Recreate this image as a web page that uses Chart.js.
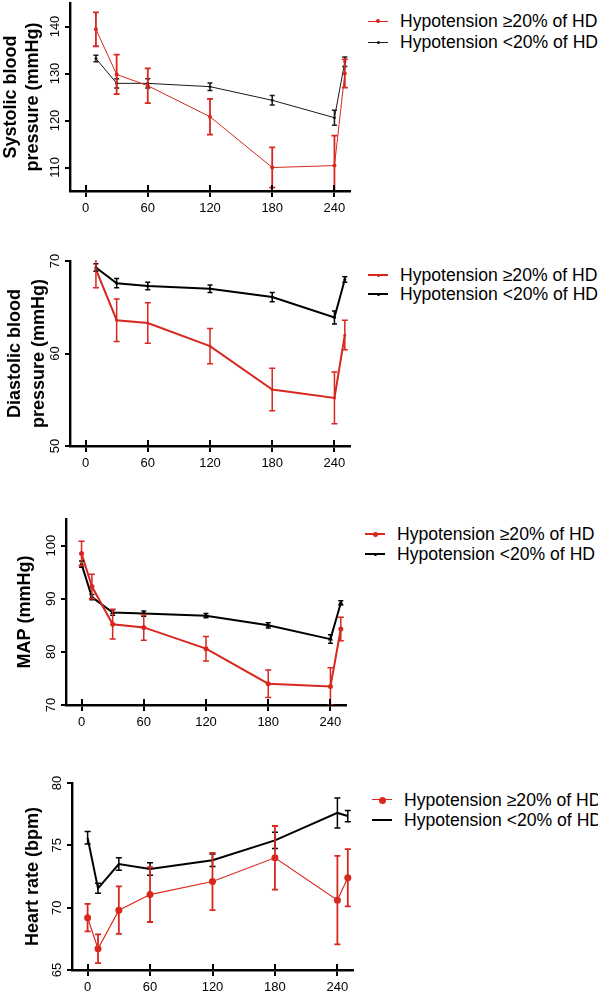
<!DOCTYPE html>
<html>
<head>
<meta charset="utf-8">
<script src="https://cdn.jsdelivr.net/npm/chart.js@4.4.1/dist/chart.umd.min.js"></script>
<style>
  html, body { margin: 0; padding: 0; background: #fff; }
  #page { position: relative; width: 598px; height: 992px; overflow: hidden; background: #fff; }
  canvas { position: absolute; left: 0; }
  .legend-row { position: absolute; height: 20px; line-height: 20px; white-space: nowrap;
    font-family: "Liberation Sans", Arial, sans-serif; font-size: 17.6px; color: #000; }
  .legend-line { position: absolute; top: 9px; height: 0; }
  .legend-dot { position: absolute; border-radius: 50%; }
</style>
</head>
<body>
<div id="page"></div>
<script>
// Time points (minutes of HD)
const timesA = [10, 30, 60, 120, 180, 240, 250];
const timesB = [0, 10, 30, 60, 120, 180, 240, 250];
const xTicks = [0, 60, 120, 180, 240];
const seriesLabels = ['Hypotension \u226520% of HD', 'Hypotension <20% of HD'];

// Systolic blood pressure
const sbpHigh = [139.4, 129.8, 127.4, 120.8, 110.0, 110.4, 130.0];
const sbpHighErr = [3.6, 4.2, 3.7, 3.8, 4.3, 6.4, 3.0];
const sbpLow = [133.2, 127.9, 127.9, 127.2, 124.3, 120.6, 132.5];
const sbpLowErr = [0.7, 1.0, 1.0, 0.8, 1.0, 1.6, 1.0];
const sbpTicks = [110, 120, 130, 140];

// Diastolic blood pressure
const dbpHigh = [69.1, 63.6, 63.3, 60.8, 56.1, 55.2, 62.0];
const dbpHighErr = [2.0, 2.3, 2.2, 1.9, 2.3, 2.8, 1.6];
const dbpLow = [69.3, 67.6, 67.3, 67.0, 66.1, 63.9, 68.0];
const dbpLowErr = [0.4, 0.5, 0.4, 0.4, 0.5, 0.7, 0.3];
const dbpTicks = [50, 60, 70];

// Mean arterial pressure
const mapHigh = [98.5, 92.3, 85.2, 84.6, 80.6, 74.0, 73.5, 84.3];
const mapHighErr = [2.3, 2.3, 2.8, 2.4, 2.3, 2.6, 3.5, 2.2];
const mapLow = [96.5, 90.3, 87.4, 87.2, 86.8, 85.0, 82.4, 89.2];
const mapLowErr = [0.6, 0.5, 0.5, 0.5, 0.4, 0.5, 0.8, 0.4];
const mapTicks = [70, 80, 90, 100];

// Heart rate
const hrHigh = [69.2, 66.7, 69.8, 71.05, 72.1, 74.0, 70.6, 72.4];
const hrHighErr = [1.1, 1.15, 1.9, 2.2, 2.3, 2.55, 3.55, 2.3];
const hrLow = [75.6, 71.55, 73.5, 73.1, 73.8, 75.4, 77.6, 77.35];
const hrLowErr = [0.5, 0.4, 0.5, 0.5, 0.5, 0.65, 1.2, 0.45];
const hrTicks = [65, 70, 75, 80];

const RED = '#d8271e';
const FONT = '"Liberation Sans", Arial, sans-serif';
const page = document.getElementById('page');

// error bars drawn on top of the lines
const errorBarPlugin = {
  id: 'errorBars',
  afterDatasetsDraw(chart) {
    const { ctx, chartArea, scales: { x, y } } = chart;
    ctx.save();
    ctx.beginPath();
    ctx.rect(chartArea.left, chartArea.top - 1, chartArea.width + 10, chartArea.height + 1);
    ctx.clip();
    // draw last dataset first so the red one stays on top
    for (let i = chart.data.datasets.length - 1; i >= 0; i--) {
      const ds = chart.data.datasets[i];
      if (!ds.errors) continue;
      ctx.strokeStyle = ds.errorColor || ds.borderColor;
      ctx.lineWidth = ds.errorWidth || 1.5;
      ds.data.forEach((pt, j) => {
        const px = x.getPixelForValue(pt.x);
        const top = y.getPixelForValue(pt.y + ds.errors[j]);
        const bot = y.getPixelForValue(pt.y - ds.errors[j]);
        const cap = ds.capWidth || 3;
        ctx.beginPath();
        ctx.moveTo(px, top); ctx.lineTo(px, bot);
        ctx.moveTo(px - cap, top); ctx.lineTo(px + cap, top);
        ctx.moveTo(px - cap, bot); ctx.lineTo(px + cap, bot);
        ctx.stroke();
      });
    }
    ctx.restore();
  }
};

// ticks crossing the x axis + rotated y tick labels
const axisExtras = {
  id: 'axisExtras',
  afterDraw(chart) {
    const { ctx, chartArea, scales: { x, y } } = chart;
    ctx.save();
    ctx.strokeStyle = '#000';
    ctx.lineWidth = 2;
    x.ticks.forEach(t => {
      const px = Math.round(x.getPixelForValue(t.value));
      ctx.beginPath();
      ctx.moveTo(px, chartArea.bottom);
      ctx.lineTo(px, chartArea.bottom - 6);
      ctx.stroke();
    });
    ctx.fillStyle = '#000';
    ctx.font = '13px ' + FONT;
    ctx.textAlign = 'center';
    ctx.textBaseline = 'middle';
    y.ticks.forEach(t => {
      const py = y.getPixelForValue(t.value);
      ctx.save();
      ctx.translate(chartArea.left - 15, py);
      ctx.rotate(-Math.PI / 2);
      ctx.fillText(String(t.value), 0, 0);
      ctx.restore();
    });
    ctx.restore();
  }
};

function toPoints(times, values) {
  return times.map((t, i) => ({ x: t, y: values[i] }));
}

function makePanel(cfg) {
  const padTop = 12;
  const xAxisH = 30;
  const width = 360;
  const height = padTop + (cfg.bottom - cfg.top) + xAxisH;
  const canvas = document.createElement('canvas');
  canvas.width = width;
  canvas.height = height;
  canvas.style.top = (cfg.top - padTop) + 'px';
  canvas.style.width = width + 'px';
  canvas.style.height = height + 'px';
  page.appendChild(canvas);

  new Chart(canvas, {
    type: 'line',
    data: { datasets: cfg.datasets },
    options: {
      responsive: false,
      animation: false,
      devicePixelRatio: 1,
      layout: { padding: { top: padTop, right: width - cfg.right, bottom: 0, left: 0 } },
      plugins: { legend: { display: false }, tooltip: { enabled: false } },
      scales: {
        x: {
          type: 'linear', min: -15, max: 255,
          afterBuildTicks: s => { s.ticks = xTicks.map(v => ({ value: v })); },
          afterFit: s => { s.height = xAxisH; },
          border: { color: '#000', width: 2.4 },
          grid: { drawOnChartArea: false, drawTicks: true, tickLength: 6, color: '#000', lineWidth: 2 },
          ticks: { color: '#000', font: { size: 13, family: FONT }, padding: 4, maxRotation: 0 }
        },
        y: {
          min: cfg.yMin, max: cfg.yMax,
          afterBuildTicks: s => { s.ticks = cfg.yTicks.map(v => ({ value: v })); },
          afterFit: s => { s.width = cfg.left; },
          border: { color: '#000', width: 2.4 },
          grid: { drawOnChartArea: false, drawTicks: true, tickLength: 5, color: '#000', lineWidth: 2 },
          ticks: { display: false },
          title: {
            display: true, text: cfg.title, color: '#000',
            font: { size: 18, weight: 'bold', family: FONT, lineHeight: cfg.titleLH || 1.22 },
            padding: { top: cfg.titlePad, bottom: 0 }
          }
        }
      }
    },
    plugins: [errorBarPlugin, axisExtras]
  });

  // legend as html
  cfg.legend.styles.forEach((st, i) => {
    const row = document.createElement('div');
    row.className = 'legend-row';
    row.style.left = cfg.legend.x + 'px';
    row.style.top = (cfg.legend.rows[i] - 10) + 'px';
    const line = document.createElement('div');
    line.className = 'legend-line';
    line.style.left = '0px';
    line.style.width = '20px';
    line.style.borderTop = st.lw + 'px solid ' + st.color;
    line.style.top = (10 - st.lw / 2) + 'px';
    row.appendChild(line);
    if (st.dot) {
      const dot = document.createElement('div');
      dot.className = 'legend-dot';
      dot.style.width = dot.style.height = (st.dot * 2) + 'px';
      dot.style.left = (10 - st.dot) + 'px';
      dot.style.top = (10 - st.dot) + 'px';
      dot.style.background = st.color;
      row.appendChild(dot);
    }
    const txt = document.createElement('span');
    txt.style.position = 'absolute';
    txt.style.left = '32px';
    txt.textContent = seriesLabels[i];
    row.appendChild(txt);
    page.appendChild(row);
  });
}

function series(label, times, values, errors, color, opts) {
  return Object.assign({
    label: label,
    data: toPoints(times, values),
    errors: errors,
    borderColor: color,
    backgroundColor: color,
    pointBorderWidth: 0,
    tension: 0,
    clip: false,
    capWidth: 3
  }, opts);
}

// Panel 1: systolic
makePanel({
  top: 3, bottom: 191, left: 70, right: 350,
  yMin: 105, yMax: 145, yTicks: sbpTicks,
  title: ['Systolic blood', 'pressure (mmHg)'], titlePad: 0,
  datasets: [
    series(seriesLabels[0], timesA, sbpHigh, sbpHighErr, RED, { borderWidth: 1, pointRadius: 2, errorWidth: 1.8 }),
    series(seriesLabels[1], timesA, sbpLow, sbpLowErr, '#1a1a1a', { borderWidth: 1, pointRadius: 1.5, errorWidth: 1.5, capWidth: 2.5 })
  ],
  legend: { x: 368, rows: [21, 42], styles: [{ color: RED, lw: 1, dot: 2 }, { color: '#1a1a1a', lw: 1, dot: 1.5 }] }
});

// Panel 2: diastolic
makePanel({
  top: 261, bottom: 446, left: 70, right: 350,
  yMin: 50, yMax: 70, yTicks: dbpTicks,
  title: ['Diastolic blood', 'pressure (mmHg)'], titlePad: 4, titleLH: 1.28,
  datasets: [
    series(seriesLabels[0], timesA, dbpHigh, dbpHighErr, RED, { borderWidth: 2, pointRadius: 1.5, errorWidth: 1.5 }),
    series(seriesLabels[1], timesA, dbpLow, dbpLowErr, '#000', { borderWidth: 2, pointRadius: 1.5, errorWidth: 1.5, capWidth: 2.5 })
  ],
  legend: { x: 368, rows: [275, 294], styles: [{ color: RED, lw: 2, dot: 1.5 }, { color: '#000', lw: 2, dot: 1.5 }] }
});

// Panel 3: MAP
makePanel({
  top: 519, bottom: 705, left: 66, right: 346,
  yMin: 70, yMax: 105, yTicks: mapTicks,
  title: ['MAP (mmHg)'], titlePad: 14,
  datasets: [
    series(seriesLabels[0], timesB, mapHigh, mapHighErr, RED, { borderWidth: 2, pointRadius: 2.5, errorWidth: 1.5 }),
    series(seriesLabels[1], timesB, mapLow, mapLowErr, '#000', { borderWidth: 2, pointRadius: 3, pointStyle: 'triangle', errorWidth: 1.5, capWidth: 2.5 })
  ],
  legend: { x: 365, rows: [534, 554], styles: [{ color: RED, lw: 2, dot: 2.5 }, { color: '#000', lw: 2, dot: 1.5 }] }
});

// Panel 4: heart rate
makePanel({
  top: 783, bottom: 970, left: 72, right: 353,
  yMin: 65, yMax: 80, yTicks: hrTicks,
  title: ['Heart rate (bpm)'], titlePad: 22,
  datasets: [
    series(seriesLabels[0], timesB, hrHigh, hrHighErr, RED, { borderWidth: 1.2, pointRadius: 3.5, errorWidth: 1.8 }),
    series(seriesLabels[1], timesB, hrLow, hrLowErr, '#000', { borderWidth: 2, pointRadius: 0, errorWidth: 1.5 })
  ],
  legend: { x: 372, rows: [800, 820], styles: [{ color: RED, lw: 1.2, dot: 3.5 }, { color: '#000', lw: 2, dot: 0 }] }
});
</script>
</body>
</html>
